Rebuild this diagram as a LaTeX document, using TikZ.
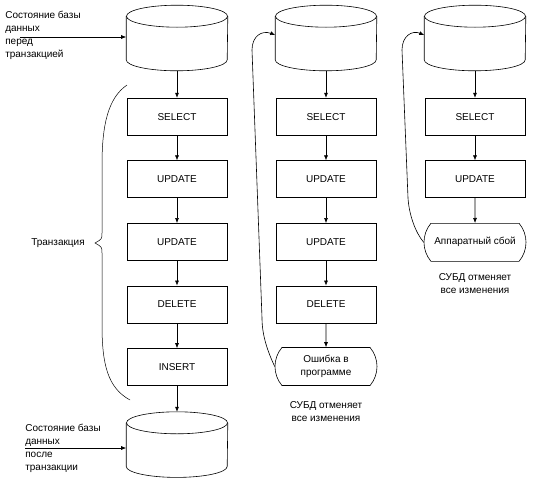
\documentclass[tikz,border=0pt]{standalone}
\usepackage{fontspec}
\setmainfont{Liberation Sans}
\usepackage{tikz}
\usetikzlibrary{positioning,arrows.meta,shapes.misc}
\newcommand{\dbdraw}[1]{%
  \draw ([yshift=-11pt]#1.north west) -- ([yshift=11pt]#1.south west)
    arc[start angle=180, end angle=360, x radius=50.5pt, y radius=11pt] -- ([yshift=-11pt]#1.north east);
  \draw ([yshift=-11pt]#1.north) ellipse[x radius=50.5pt, y radius=11pt];}

\begin{document}
\begin{tikzpicture}[
  x=1pt, y=-1pt,
  font=\fontsize{10}{13}\selectfont,
  line width=0.6pt,
  box/.style={draw, minimum width=100pt, minimum height=37pt, inner sep=0pt},
  db/.style={minimum width=101pt, minimum height=65pt, inner sep=0pt},
  term/.style={draw, rounded rectangle, rounded rectangle arc length=80, minimum width=102pt, minimum height=38pt, inner sep=0pt, align=center},
  note/.style={align=center, inner sep=0pt},
  arr/.style={-{Latex[length=5pt,width=4pt]}},
  node distance=25pt]
\useasboundingbox[fill=white] (0,0) rectangle (541,482);
% column 1: transaction completes
\node[db] (db1) at (177,38) {};
\dbdraw{db1}
\node[box, below=27pt of db1] (sel1) {SELECT};
\node[box, below=of sel1] (upd1) {UPDATE};
\node[box, below=of upd1] (upd1b) {UPDATE};
\node[box, below=of upd1b] (del1) {DELETE};
\node[box, below=of del1] (ins1) {INSERT};
\node[db, below=26pt of ins1] (db1out) {};
\dbdraw{db1out}
\node[note, align=left, anchor=north west] (before) at (5,11) {Состояние базы\\данных\\перед\\транзакцией};
\node[note, align=left, anchor=north west] (after) at (25,424) {Состояние базы\\данных\\после\\транзакции};
\coordinate (in1) at (20,37);
\coordinate (in2) at (25,448);
\draw[arr] (in1) -- (in1 -| db1.west);
\draw[arr] (in2) -- (in2 -| db1out.west);
\draw[arr] (db1) -- (sel1);
\draw[arr] (sel1) -- (upd1);
\draw[arr] (upd1) -- (upd1b);
\draw[arr] (upd1b) -- (del1);
\draw[arr] (del1) -- (ins1);
\draw[arr] (ins1) -- (db1out);
% brace
\node[note] (trans) at (58,243) {Транзакция};
\draw[line width=0.5pt] (127,85) .. controls (108,98) and (102,125) .. (102,165) -- (102,233)
  .. controls (102,239) .. (95,243) .. controls (102,247) .. (102,253) -- (102,325)
  .. controls (102,365) and (108,388) .. (130,400);
% column 2: program error
\node[db] (db2) at (326,38) {};
\dbdraw{db2}
\node[box, below=27pt of db2] (sel2) {SELECT};
\node[box, below=of sel2] (upd2) {UPDATE};
\node[box, below=of upd2] (upd2b) {UPDATE};
\node[box, below=of upd2b] (del2) {DELETE};
\node[term, below=24pt of del2] (err2) {Ошибка в\\программе};
\node[note, below=15pt of err2] (undo2) {СУБД отменяет\\все изменения};
\draw[arr] (db2) -- (sel2);
\draw[arr] (sel2) -- (upd2);
\draw[arr] (upd2) -- (upd2b);
\draw[arr] (upd2b) -- (del2);
\draw[arr] (del2) -- (err2);
\draw[arr] (err2.west) .. controls (268,352) and (262,336) .. (262,318) -- (252,50)
  .. controls (252,36) and (262,30) .. ([yshift=3pt]db2.west);
% column 3: hardware failure
\node[db] (db3) at (475,38) {};
\dbdraw{db3}
\node[box, below=27pt of db3] (sel3) {SELECT};
\node[box, below=of sel3] (upd3) {UPDATE};
\node[term, below=of upd3] (err3) {Аппаратный сбой};
\node[note, below=12pt of err3] (undo3) {СУБД отменяет\\все изменения};
\draw[arr] (db3) -- (sel3);
\draw[arr] (sel3) -- (upd3);
\draw[arr] (upd3) -- (err3);
\draw[arr] (err3.west) .. controls (415,232) and (409,214) .. (408,198) -- (402,50)
  .. controls (402,36) and (412,30) .. ([yshift=3pt]db3.west);
\end{tikzpicture}
\end{document}
